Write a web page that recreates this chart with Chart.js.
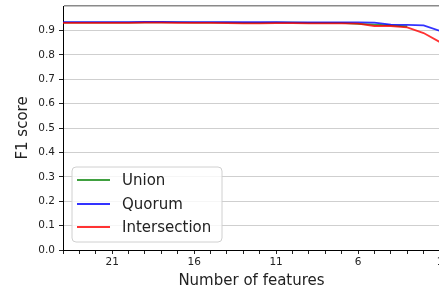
<!DOCTYPE html>
<html>
<head>
<meta charset="utf-8">
<script src="https://cdn.jsdelivr.net/npm/chart.js@4/dist/chart.umd.min.js"></script>
<style>
html,body{margin:0;padding:0;background:#fff;}
#wrap{width:439px;height:294px;overflow:hidden;position:relative;}
canvas{display:block;}
</style>
</head>
<body>
<div id="wrap"><canvas id="c" width="460" height="294"></canvas></div>
<script>
const features = [24,23,22,21,20,19,18,17,16,15,14,13,12,11,10,9,8,7,6,5,4,3,2,1];
const union =        [0.932,0.932,0.932,0.932,0.932,0.933,0.933,0.933,0.932,0.932,0.932,0.931,0.931,0.932,0.932,0.931,0.931,0.931,0.927,0.924,0.921,0.916,null,null];
const quorum =       [0.934,0.934,0.934,0.934,0.934,0.935,0.935,0.934,0.934,0.934,0.934,0.934,0.934,0.934,0.933,0.933,0.933,0.933,0.933,0.932,0.924,0.923,0.921,0.898];
const intersection = [0.931,0.931,0.931,0.931,0.931,0.932,0.932,0.931,0.931,0.931,0.930,0.929,0.929,0.930,0.930,0.929,0.929,0.929,0.928,0.918,0.918,0.912,0.889,0.852];
const seriesNames = ['Union','Quorum','Intersection'];
const seriesColors = ['rgba(0,128,0,0.75)','rgba(0,0,255,0.8)','rgba(255,0,0,0.8)'];
const xTickLabels = [21,16,11,6,1];
const yTicks = [0,0.1,0.2,0.3,0.4,0.5,0.6,0.7,0.8,0.9];

Chart.defaults.font.family = 'DejaVu Sans';
Chart.defaults.color = '#222';

const allSeries = [union, quorum, intersection];
const datasets = allSeries.map((s, i) => ({
  label: seriesNames[i],
  data: features.map((f, j) => ({x: f, y: s[j]})),
  borderColor: seriesColors[i],
  backgroundColor: seriesColors[i],
  borderWidth: 1.8,
  pointRadius: 0,
  tension: 0,
  fill: false,
  order: allSeries.length - i
}));

const legendPlugin = {
  id: 'boxLegend',
  afterDraw(chart) {
    const ctx = chart.ctx;
    ctx.save();
    const x = 72, y = 167, w = 150, h = 75, r = 4;
    ctx.beginPath();
    ctx.moveTo(x + r, y);
    ctx.arcTo(x + w, y, x + w, y + h, r);
    ctx.arcTo(x + w, y + h, x, y + h, r);
    ctx.arcTo(x, y + h, x, y, r);
    ctx.arcTo(x, y, x + w, y, r);
    ctx.closePath();
    ctx.fillStyle = 'rgba(255,255,255,0.8)';
    ctx.fill();
    ctx.strokeStyle = '#d0d0d0';
    ctx.lineWidth = 1;
    ctx.stroke();
    const rows = [180, 204, 227];
    chart.data.datasets.forEach((ds, i) => {
      ctx.strokeStyle = ds.borderColor;
      ctx.lineWidth = 2;
      ctx.beginPath();
      ctx.moveTo(77, rows[i]);
      ctx.lineTo(110, rows[i]);
      ctx.stroke();
      ctx.fillStyle = '#222';
      ctx.font = '15px "DejaVu Sans"';
      ctx.textBaseline = 'middle';
      ctx.textAlign = 'left';
      ctx.fillText(ds.label, 122, rows[i] + 1);
    });
    ctx.restore();
  }
};

new Chart(document.getElementById('c'), {
  type: 'line',
  data: { datasets },
  options: {
    responsive: false,
    animation: false,
    devicePixelRatio: 1,
    layout: { padding: { left: 0, top: 6, right: 20, bottom: 0 } },
    plugins: { legend: { display: false }, tooltip: { enabled: false } },
    scales: {
      x: {
        type: 'linear',
        reverse: true,
        min: 1,
        max: 24,
        afterFit(scale) { scale.height = 44; scale.paddingLeft = 0; scale.paddingRight = 0; },
        ticks: {
          stepSize: 1,
          autoSkip: false,
          maxRotation: 0,
          padding: 2,
          font: { size: 10.5 },
          color: '#222',
          callback: (v) => xTickLabels.includes(v) ? String(v) : ''
        },
        grid: {
          drawOnChartArea: false,
          drawTicks: true,
          tickLength: 4,
          tickColor: '#222'
        },
        border: { display: true, color: '#000', width: 1 },
        title: {
          display: true,
          text: 'Number of features',
          font: { size: 15 },
          color: '#222',
          padding: { top: 0, bottom: 4 }
        }
      },
      y: {
        min: 0,
        max: 1,
        afterFit(scale) { scale.width = 63; scale.paddingTop = 0; scale.paddingBottom = 0; },
        afterBuildTicks(scale) {
          scale.ticks = yTicks.concat([1]).map(v => ({ value: v }));
        },
        ticks: {
          padding: 4,
          font: { size: 10.5 },
          color: '#222',
          callback: (v) => v >= 0.999 ? '' : v.toFixed(1)
        },
        grid: {
          color: (c) => (c.tick && c.tick.value >= 0.999) ? '#8a8a8a' : '#cfcfcf',
          lineWidth: (c) => (c.tick && c.tick.value >= 0.999) ? 1.5 : 1,
          tickLength: 4,
          tickColor: (c) => (c.tick && c.tick.value >= 0.999) ? 'rgba(0,0,0,0)' : '#222'
        },
        border: { display: true, color: '#000', width: 1 },
        title: {
          display: true,
          text: 'F1 score',
          font: { size: 15 },
          color: '#222',
          padding: { top: 14, bottom: 0 }
        }
      }
    }
  },
  plugins: [legendPlugin]
});
</script>
</body>
</html>
